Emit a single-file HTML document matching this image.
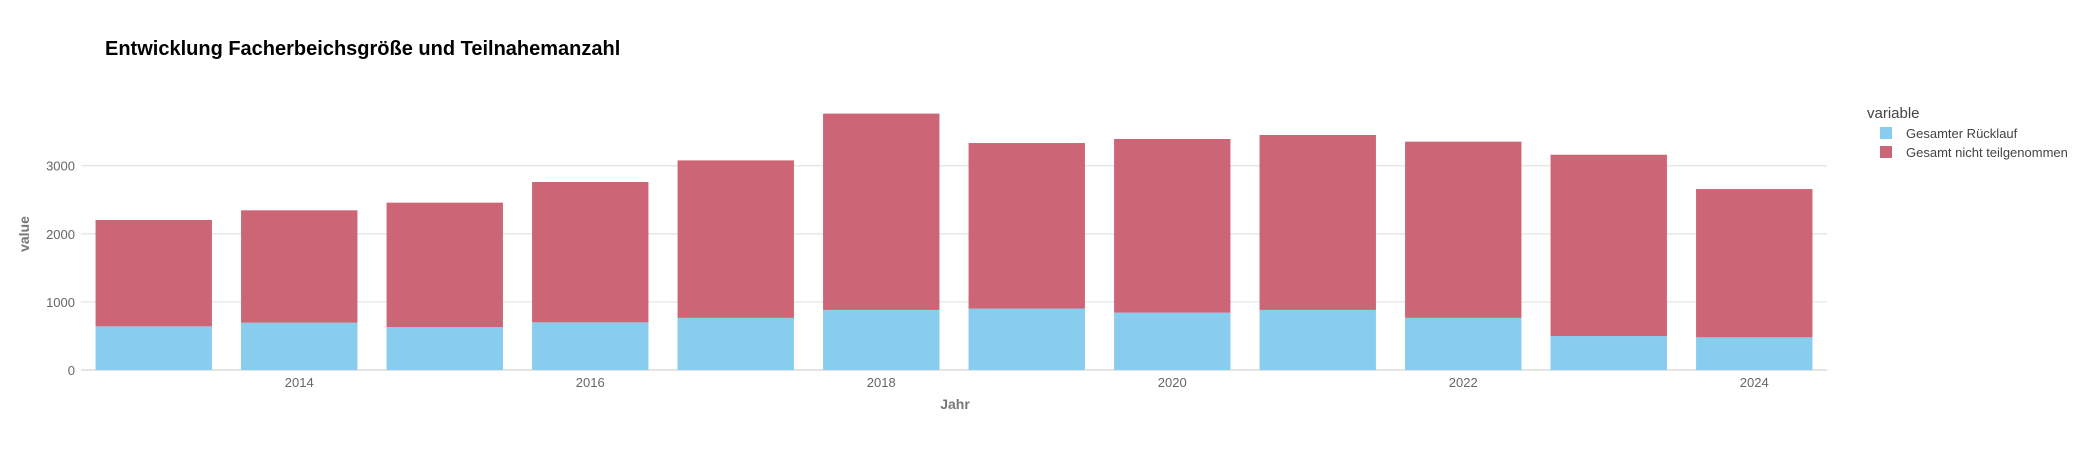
<!DOCTYPE html>
<html><head><meta charset="utf-8"><style>
body{margin:0;background:#fff;}
svg{display:block;font-family:"Liberation Sans","DejaVu Sans",sans-serif;}
</style></head><body>
<svg id="chart" width="2093" height="450">
<text x="105" y="55" font-size="20" font-weight="bold" fill="#000">Entwicklung Facherbeichsgröße und Teilnahemanzahl</text>
<g id="grid"></g><g id="bars"></g><g id="axes"></g>
<text x="955" y="409" text-anchor="middle" font-size="14" font-weight="bold" fill="#777">Jahr</text>
<text transform="translate(29,234) rotate(-90)" text-anchor="middle" font-size="14" font-weight="bold" fill="#777">value</text>
<g>
<text x="1867" y="118" font-size="15" fill="#444">variable</text>
<rect x="1880" y="127" width="12" height="12" fill="#88CCEE"/>
<text x="1906" y="138" font-size="13" fill="#444">Gesamter Rücklauf</text>
<rect x="1880" y="146" width="12" height="12" fill="#CC6677"/>
<text x="1906" y="157" font-size="13" fill="#444">Gesamt nicht teilgenommen</text>
</g>
</svg>
<script>
const years=[2013,2014,2015,2016,2017,2018,2019,2020,2021,2022,2023,2024];
const ruecklauf=[641,695,631,700,765,882,902,843,882,765,499,480];
const gesamt=[2203,2345,2457,2761,3078,3765,3333,3392,3451,3353,3161,2657];
const yTicks=[0,1000,2000,3000];
const xTicks=[2014,2016,2018,2020,2022,2024];
const NS='http://www.w3.org/2000/svg';
const x0=81,x1=1827,y0=370,pxPer=0.0681;
const xMin=2012.5,xMax=2024.5;
const xs=v=>x0+(v-xMin)/(xMax-xMin)*(x1-x0);
const ys=v=>y0-v*pxPer;
const bw=(x1-x0)/(xMax-xMin)*0.8;
function mk(tag,attrs,parent){const e=document.createElementNS(NS,tag);for(const k in attrs)e.setAttribute(k,attrs[k]);parent.appendChild(e);return e;}
const grid=document.getElementById('grid'),bars=document.getElementById('bars'),axes=document.getElementById('axes');
yTicks.forEach(t=>{
 const l=mk('line',{x1:x0,x2:x1,y1:ys(t),y2:ys(t),stroke:'#e5e5e5','stroke-width':t===0?2:1.3},grid);
 
 
 const tx=mk('text',{x:x0-6,y:ys(t)+5,'text-anchor':'end','font-size':13,fill:'#666'},axes);
 tx.textContent=t;
 
 
});
xTicks.forEach(t=>{
 const tx=mk('text',{x:xs(t),y:y0+17,'text-anchor':'middle','font-size':13,fill:'#666'},axes);
 tx.textContent=t;
 
 
});
years.forEach((yr,i)=>{
 const cx=xs(yr);
 const b=mk('rect',{x:cx-bw/2,y:ys(ruecklauf[i]),width:bw,height:ruecklauf[i]*pxPer,fill:'#88CCEE'},bars);
 
 
 const r=mk('rect',{x:cx-bw/2,y:ys(gesamt[i]),width:bw,height:(gesamt[i]-ruecklauf[i])*pxPer,fill:'#CC6677'},bars);
 
 
});
</script>
</body></html>
